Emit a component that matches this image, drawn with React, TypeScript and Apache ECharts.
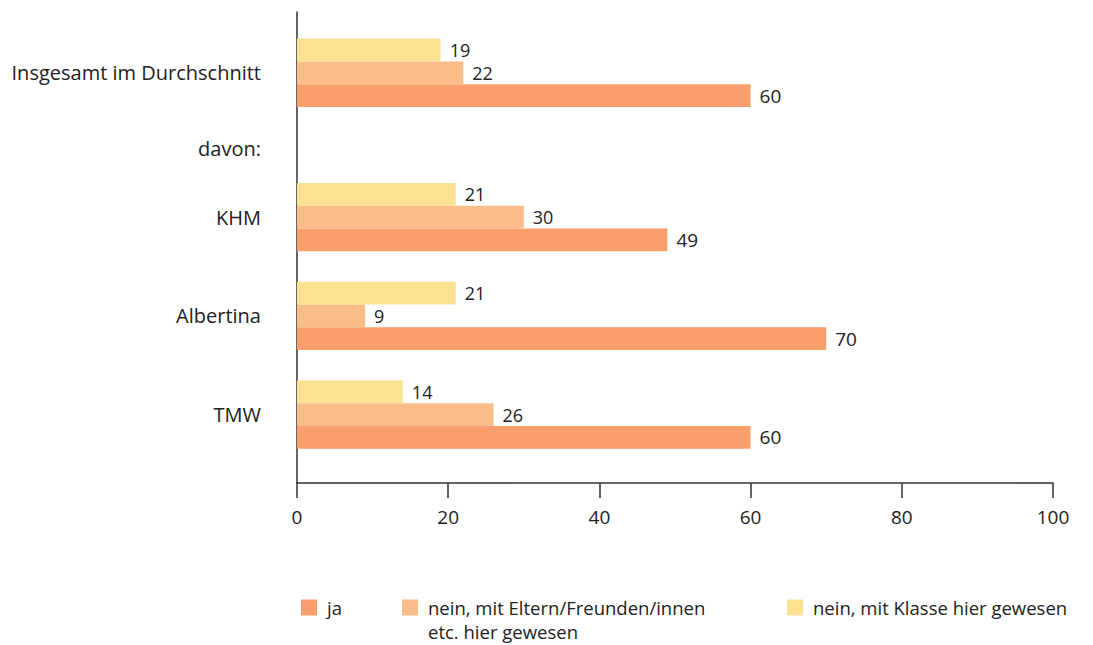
import React, { useEffect, useRef } from 'react';
import * as echarts from 'echarts';

// ---- data ----
const categories = ['Insgesamt im Durchschnitt', 'KHM', 'Albertina', 'TMW'];
const subheading = 'davon:';
const seriesNames = [
  'ja',
  'nein, mit Eltern/Freunden/innen\netc. hier gewesen',
  'nein, mit Klasse hier gewesen',
];
const ja = [60, 49, 70, 60];
const neinEltern = [22, 30, 9, 26];
const neinKlasse = [19, 21, 21, 14];
const xTicks = [0, 20, 40, 60, 80, 100];

// ---- layout (rows of a fine category axis) ----
const ROWS = 124;
const groupStart = [7, 45, 71, 97];
const subheadingRow = 36;
const BAR = 6;

const colors = { ja: '#F99F6D', eltern: '#FABC88', klasse: '#FDE193' };
const FONT = '"Open Sans", sans-serif';

export default function App() {
  const ref = useRef<HTMLDivElement>(null);
  useEffect(() => {
    document.body.style.margin = '0';
    const chart = echarts.init(ref.current!, null, { renderer: 'svg' });
    const rowNames = Array.from({ length: ROWS + 1 }, (_, i) => String(i));
    const labelByRow: Record<number, string> = {};
    categories.forEach((c, i) => {
      labelByRow[groupStart[i] + BAR + BAR / 2] = c;
    });
    labelByRow[subheadingRow] = subheading;

    const mk = (vals: number[], slot: number) =>
      vals.map((v, i) => [v, String(groupStart[i] + slot * BAR + BAR / 2)]);

    const baseSeries = (name: string, color: string, data: any[], fontSize: number) => ({
      type: 'bar',
      name,
      data,
      barWidth: BAR * 100 + '%',
      barGap: '-100%',
      itemStyle: { color },
      label: {
        show: true,
        position: 'right',
        distance: 9,
        fontSize,
        fontFamily: FONT,
        color: '#222',
        formatter: (p: any) => String(p.value[0]),
      },
    });

    const legendText = {
      fontSize: 18.5,
      lineHeight: 18,
      color: '#222',
      fontFamily: FONT,
      padding: [0, 0, 0, 5],
    };
    const [eltern1, eltern2] = seriesNames[1].split('\n');

    chart.setOption({
      animation: false,
      textStyle: { fontFamily: FONT },
      grid: { left: 297, right: 40, top: 12, bottom: 162, containLabel: false },
      xAxis: {
        type: 'value',
        min: xTicks[0],
        max: xTicks[xTicks.length - 1],
        interval: xTicks[1] - xTicks[0],
        splitLine: { show: false },
        axisLine: { show: true, lineStyle: { color: '#333', width: 1.5 } },
        axisTick: { show: true, length: 15, lineStyle: { color: '#333', width: 1.5 } },
        axisLabel: { margin: 24, fontSize: 19, color: '#222', fontFamily: FONT },
      },
      yAxis: {
        type: 'category',
        inverse: true,
        boundaryGap: false,
        data: rowNames,
        axisLine: { show: true, lineStyle: { color: '#333', width: 1.5 } },
        axisTick: { show: false },
        splitLine: { show: false },
        axisLabel: {
          interval: 0,
          margin: 36,
          fontSize: 20,
          color: '#222',
          fontFamily: FONT,
          formatter: (_v: string, i: number) => labelByRow[i] ?? '',
        },
      },
      legend: [
        {
          data: [seriesNames[0]],
          left: 301,
          top: 598,
          padding: 0,
          itemWidth: 16,
          itemHeight: 16,
          icon: 'rect',
          textStyle: legendText,
        },
        {
          data: [seriesNames[1]],
          left: 402,
          top: 598,
          padding: 0,
          itemWidth: 16,
          itemHeight: 16,
          icon: 'rect',
          formatter: () => eltern1,
          textStyle: legendText,
        },
        {
          data: [seriesNames[2]],
          left: 787,
          top: 598,
          padding: 0,
          itemWidth: 16,
          itemHeight: 16,
          icon: 'rect',
          textStyle: legendText,
        },
      ],
      graphic: [
        {
          type: 'text',
          left: 428,
          top: 622,
          style: {
            text: eltern2,
            fontSize: 18.5,
            lineHeight: 18,
            fill: '#222',
            fontFamily: FONT,
          },
        },
      ],
      series: [
        baseSeries(seriesNames[0], colors.ja, mk(ja, 2), 19),
        baseSeries(seriesNames[1], colors.eltern, mk(neinEltern, 1), 18),
        baseSeries(seriesNames[2], colors.klasse, mk(neinKlasse, 0), 18),
      ],
    });
    return () => chart.dispose();
  }, []);
  return <div ref={ref} style={{ width: 1093, height: 645 }} />;
}
